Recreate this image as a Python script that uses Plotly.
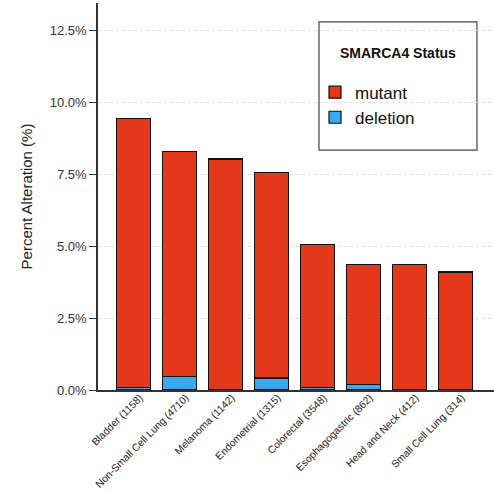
import plotly.graph_objects as go

# Cancer types with sample counts, and SMARCA4 alteration frequencies (%)
cancer_types = [
    "Bladder (1158)",
    "Non-Small Cell Lung (4710)",
    "Melanoma (1142)",
    "Endometrial (1315)",
    "Colorectal (3548)",
    "Esophagogastric (862)",
    "Head and Neck (412)",
    "Small Cell Lung (314)",
]
deletion_pct = [0.09, 0.46, None, 0.42, 0.09, 0.20, None, None]
mutant_pct = [9.34, 7.82, 8.02, 7.14, 4.97, 4.15, 4.35, 4.10]

y_ticks = [0.0, 2.5, 5.0, 7.5, 10.0, 12.5]

MUTANT_COLOR = "#E3391A"
DELETION_COLOR = "#38A8EF"
FONT = "Liberation Sans, Arial, sans-serif"

fig = go.Figure()
fig.add_trace(go.Bar(
    x=cancer_types, y=deletion_pct, name="deletion",
    marker=dict(color=DELETION_COLOR, line=dict(color="#111111", width=1.2)),
    legendrank=2,
))
fig.add_trace(go.Bar(
    x=cancer_types, y=mutant_pct, name="mutant",
    marker=dict(color=MUTANT_COLOR, line=dict(color="#111111", width=1.2)),
    legendrank=1,
))

fig.update_layout(
    barmode="stack",
    bargap=0.26,
    width=494, height=492,
    margin=dict(l=98, r=0, t=3, b=102),
    paper_bgcolor="white",
    plot_bgcolor="white",
    font=dict(family=FONT, color="#222222"),
    showlegend=True,
    legend=dict(
        x=0.548, y=0.815, xanchor="left", yanchor="top",
        font=dict(size=17, color="#111111", family=FONT),
        bgcolor="rgba(0,0,0,0)",
        traceorder="normal",
        tracegroupgap=0,
        itemwidth=30,
    ),
    shapes=[dict(
        type="rect", xref="paper", yref="paper",
        x0=0.558, x1=0.957, y0=0.620, y1=0.951,
        line=dict(color="#444444", width=1.2),
        fillcolor="rgba(0,0,0,0)", layer="below",
    )],
    annotations=[dict(
        text="<b>SMARCA4 Status</b>", xref="paper", yref="paper",
        x=0.7575, y=0.872, xanchor="center", yanchor="middle",
        showarrow=False, font=dict(size=14, color="#111111", family=FONT),
    )],
)

fig.update_xaxes(
    range=[-0.78, 7.83],
    tickangle=-45,
    tickfont=dict(size=10.3, color="#222222"),
    ticklabelshift=6,
    ticklabelstandoff=-4,
    automargin=False,
    showline=True, linecolor="#333333", linewidth=1.5,
    ticks="", showgrid=False,
)
fig.update_yaxes(
    range=[0, 13.44],
    tickvals=y_ticks,
    ticktext=[f"{v:.1f}%" for v in y_ticks],
    tickfont=dict(size=13, color="#333333"),
    title=dict(text="Percent Alteration (%)", font=dict(size=15, color="#222222"), standoff=14),
    automargin=False,
    showline=True, linecolor="#333333", linewidth=1.5,
    ticks="outside", ticklen=7, tickcolor="#333333",
    showgrid=True, gridcolor="#dddddd", griddash="dot", gridwidth=1,
    zeroline=False,
)

fig.write_html("out.html")
